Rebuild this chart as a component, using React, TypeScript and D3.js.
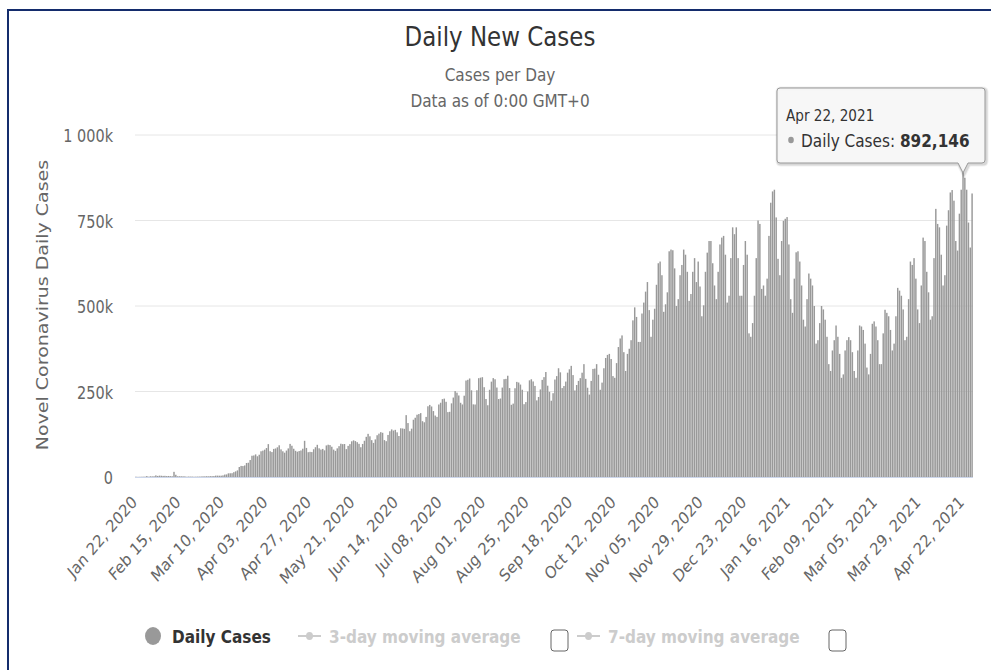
import * as d3 from "d3";

const START_DATE = new Date(2020, 0, 22);

// daily new cases in thousands, one row per week (Wed -> Tue)
const dailyCasesK: number[] = [
  0.6, 0.1, 0.3, 0.5, 0.7, 0.8, 2.7,
  0.6, 2.1, 1.7, 2.1, 4.7, 3.1, 4.0,
  3.7, 3.2, 3.4, 2.6, 3.0, 2.5, 2.1,
  15.1, 6.5, 2.1, 2.2, 2.0, 1.9, 1.7,
  0.5, 1.2, 1.0, 1.1, 0.6, 0.8, 1.0,
  1.1, 1.4, 1.8, 1.8, 2.3, 1.9, 2.5,
  2.4, 2.7, 4.0, 4.0, 3.8, 3.9, 4.7,
  7.1, 7.6, 10.7, 10.9, 11.1, 14.1, 16.5,
  19.3, 29.2, 32.4, 32.0, 33.8, 41.0, 41.7,
  49.6, 62.2, 63.0, 66.1, 60.6, 65.2, 75.2,
  77.1, 80.0, 84.7, 96.1, 75.4, 72.9, 82.1,
  83.4, 86.8, 92.7, 80.8, 75.2, 71.1, 77.3,
  83.6, 96.8, 91.4, 82.6, 76.6, 74.0, 75.9,
  77.6, 82.7, 105.8, 85.0, 72.5, 73.5, 72.9,
  81.1, 87.1, 94.1, 83.9, 80.2, 82.1, 77.9,
  92.3, 94.4, 93.3, 88.5, 80.1, 76.4, 83.8,
  90.2, 97.3, 96.0, 96.4, 81.5, 91.0, 96.1,
  104.4, 107.1, 105.0, 101.8, 97.0, 87.0, 96.6,
  106.0, 117.5, 126.2, 119.0, 107.7, 99.7, 109.9,
  122.1, 126.8, 131.1, 129.3, 107.9, 104.7, 123.0,
  133.8, 139.2, 135.8, 137.9, 130.6, 119.9, 142.4,
  141.9, 140.8, 180.9, 157.7, 133.9, 141.3, 167.4,
  173.3, 182.1, 184.1, 186.8, 163.2, 160.0, 175.7,
  206.8, 210.8, 206.2, 192.8, 179.7, 175.8, 212.0,
  217.1, 227.7, 229.2, 219.9, 189.7, 190.6, 215.3,
  232.3, 251.1, 246.6, 238.4, 217.0, 212.1, 237.7,
  282.1, 284.2, 288.1, 253.5, 212.4, 212.0, 253.7,
  288.9, 290.5, 291.9, 262.6, 228.1, 209.8, 255.0,
  278.8, 289.2, 285.8, 261.6, 228.0, 229.5, 261.5,
  286.0, 286.9, 296.1, 260.0, 211.1, 214.6, 259.5,
  278.1, 276.3, 270.3, 255.1, 212.9, 219.1, 250.0,
  282.6, 285.8, 279.4, 266.3, 224.0, 234.0, 256.0,
  284.0, 292.0, 307.0, 267.0, 249.0, 223.0, 245.0,
  285.0, 295.0, 318.0, 306.0, 260.0, 266.0, 279.0,
  305.0, 315.0, 325.0, 298.0, 253.0, 269.0, 281.0,
  289.0, 305.0, 330.0, 287.0, 261.0, 241.0, 281.0,
  316.0, 317.0, 330.0, 299.0, 255.0, 276.0, 318.0,
  348.0, 357.0, 360.0, 345.0, 295.0, 290.0, 333.0,
  380.0, 405.0, 414.0, 365.0, 310.0, 360.0, 375.0,
  400.0, 458.0, 496.0, 468.0, 395.0, 395.0, 478.0,
  510.0, 542.0, 570.0, 488.0, 410.0, 460.0, 492.0,
  562.0, 625.0, 630.0, 590.0, 483.0, 505.0, 540.0,
  660.0, 665.0, 663.0, 610.0, 500.0, 520.0, 590.0,
  620.0, 665.0, 650.0, 600.0, 515.0, 535.0, 600.0,
  640.0, 570.0, 630.0, 557.0, 470.0, 502.0, 600.0,
  656.0, 690.0, 690.0, 625.0, 560.0, 520.0, 600.0,
  680.0, 700.0, 705.0, 650.0, 510.0, 530.0, 640.0,
  730.0, 710.0, 730.0, 640.0, 530.0, 530.0, 620.0,
  690.0, 650.0, 420.0, 410.0, 450.0, 530.0, 640.0,
  750.0, 740.0, 550.0, 560.0, 530.0, 580.0, 705.0,
  802.0, 835.0, 840.0, 759.0, 638.0, 590.0, 690.0,
  749.0, 755.0, 760.0, 680.0, 520.0, 480.0, 580.0,
  657.0, 660.0, 630.0, 560.0, 460.0, 440.0, 520.0,
  595.0, 580.0, 560.0, 500.0, 390.0, 400.0, 450.0,
  500.0, 490.0, 460.0, 410.0, 330.0, 310.0, 370.0,
  400.0, 443.0, 410.0, 360.0, 290.0, 300.0, 370.0,
  400.0, 409.0, 400.0, 365.0, 310.0, 290.0, 370.0,
  443.0, 440.0, 430.0, 390.0, 320.0, 300.0, 360.0,
  448.0, 455.0, 440.0, 400.0, 330.0, 330.0, 420.0,
  489.0, 480.0, 470.0, 430.0, 370.0, 390.0, 470.0,
  553.0, 545.0, 530.0, 490.0, 400.0, 410.0, 520.0,
  630.0, 620.0, 640.0, 580.0, 490.0, 450.0, 560.0,
  700.0, 690.0, 600.0, 540.0, 460.0, 470.0, 640.0,
  784.0, 740.0, 730.0, 650.0, 560.0, 590.0, 735.0,
  780.0, 832.0, 839.0, 808.0, 690.0, 662.0, 770.0,
  840.0, 892.146, 875.0, 840.0, 744.0, 671.0, 829.0,
];

const yTickValues = [0, 250, 500, 750, 1000];

const xTickLabels = [
  "Jan 22, 2020", "Feb 15, 2020", "Mar 10, 2020", "Apr 03, 2020", "Apr 27, 2020",
  "May 21, 2020", "Jun 14, 2020", "Jul 08, 2020", "Aug 01, 2020", "Aug 25, 2020",
  "Sep 18, 2020", "Oct 12, 2020", "Nov 05, 2020", "Nov 29, 2020", "Dec 23, 2020",
  "Jan 16, 2021", "Feb 09, 2021", "Mar 05, 2021", "Mar 29, 2021", "Apr 22, 2021",
];

const seriesName = "Daily Cases";
const hiddenSeries = ["3-day moving average", "7-day moving average"];
const hoveredDate = "Apr 22, 2021";

const W = 991;
const H = 670;
const plot = { left: 135, right: 973, top: 135, bottom: 477 };
const FONT = '"Lucida Grande", "DejaVu Sans", sans-serif';
const SQ = 0.85; // the picture is a little narrower than tall

const sq = (x: number, y: number, rot = 0) =>
  `translate(${x},${y}) scale(${SQ},1)` + (rot ? ` rotate(${rot})` : "");

const fmtDay = d3.timeFormat("%b %d, %Y");
const categories = d3
  .timeDay.range(START_DATE, d3.timeDay.offset(START_DATE, dailyCasesK.length))
  .map((d) => fmtDay(d));

const fmtY = (v: number) => (v === 0 ? "0" : d3.format(",")(v).replace(",", " ") + "k");

export default function App() {
  const x = d3
    .scaleBand<number>()
    .domain(d3.range(dailyCasesK.length))
    .range([plot.left, plot.right])
    .paddingInner(0.2)
    .paddingOuter(0.1);
  const y = d3.scaleLinear().domain([0, 1000]).range([plot.bottom, plot.top]);
  const bw = x.bandwidth();
  const center = (i: number) => (x(i) ?? 0) + bw / 2;

  const hi = categories.indexOf(hoveredDate);
  const ax = center(hi);
  const ay = y(dailyCasesK[hi]);

  // tooltip box (callout pointing down at the hovered bar)
  const b = { x0: 777, y0: 88, x1: 985, y1: 163, r: 3 };
  const tipPath =
    `M${b.x0 + b.r},${b.y0} L${b.x1 - b.r},${b.y0} Q${b.x1},${b.y0} ${b.x1},${b.y0 + b.r} ` +
    `L${b.x1},${b.y1 - b.r} Q${b.x1},${b.y1} ${b.x1 - b.r},${b.y1} ` +
    `L${ax + 5},${b.y1} L${ax},${ay + 1} L${ax - 5},${b.y1} ` +
    `L${b.x0 + b.r},${b.y1} Q${b.x0},${b.y1} ${b.x0},${b.y1 - b.r} ` +
    `L${b.x0},${b.y0 + b.r} Q${b.x0},${b.y0} ${b.x0 + b.r},${b.y0} Z`;

  const legendY = 636;

  return (
    <div style={{ position: "absolute", left: 0, top: 0 }}>
      <svg width={W} height={H} style={{ display: "block", background: "#fff" }} fontFamily={FONT}>
        {/* frame */}
        <rect x={8} y={10} width={W + 50} height={H + 50} fill="none" stroke="#142c6c" strokeWidth={2} />

        {/* titles */}
        <text transform={sq(500, 46)} textAnchor="middle" fontSize={27} fill="#333">
          Daily New Cases
        </text>
        <text transform={sq(500, 81)} textAnchor="middle" fontSize={18} fill="#666">
          Cases per Day
        </text>
        <text transform={sq(500, 107)} textAnchor="middle" fontSize={18} fill="#666">
          Data as of 0:00 GMT+0
        </text>

        {/* grid + y labels */}
        {yTickValues.map((v) => (
          <g key={v}>
            <line x1={plot.left} x2={plot.right} y1={y(v)} y2={y(v)} stroke="#e6e6e6" strokeWidth={1} />
            <text transform={sq(113, y(v) + 7)} textAnchor="end" fontSize={17} fill="#666">
              {fmtY(v)}
            </text>
          </g>
        ))}
        <text
          transform={`translate(48,305) scale(${SQ},1) rotate(-90)`}
          textAnchor="middle"
          fontSize={19}
          fill="#666"
        >
          Novel Coronavirus Daily Cases
        </text>

        {/* bars */}
        {dailyCasesK.map((v, i) => (
          <rect key={i} x={x(i)} y={y(v)} width={bw} height={plot.bottom - y(v)} fill="#999" />
        ))}

        {/* x axis */}
        <line x1={plot.left} x2={plot.right} y1={plot.bottom + 0.5} y2={plot.bottom + 0.5} stroke="#ccd6eb" strokeWidth={1} />
        {xTickLabels.map((lab) => {
          const i = categories.indexOf(lab);
          return (
            <text key={lab} transform={sq(center(i) + 2, 503, -45)} textAnchor="end" fontSize={17} fill="#666">
              {lab}
            </text>
          );
        })}

        {/* legend */}
        <ellipse cx={153} cy={legendY} rx={8} ry={9} fill="#999" />
        <text transform={sq(172, legendY + 7)} fontSize={18} fontWeight="bold" fill="#333">
          {seriesName}
        </text>
        {hiddenSeries.map((name, k) => {
          const lx = k === 0 ? 298 : 577;
          const bx = k === 0 ? 551 : 829;
          return (
            <g key={name}>
              <line x1={lx} x2={lx + 23} y1={legendY} y2={legendY} stroke="#ccc" strokeWidth={2} />
              <ellipse cx={lx + 11.5} cy={legendY} rx={3.5} ry={4} fill="#ccc" />
              <text transform={sq(lx + 31, legendY + 7)} fontSize={18} fontWeight="bold" fill="#ccc">
                {name}
              </text>
              <rect x={bx} y={630} width={17} height={21} rx={3} fill="#fff" stroke="#666" strokeWidth={1} />
            </g>
          );
        })}

        {/* tooltip */}
        <g>
          <path d={tipPath} transform="translate(1,1)" fill="none" stroke="rgba(0,0,0,0.06)" strokeWidth={5} />
          <path d={tipPath} transform="translate(1,1)" fill="none" stroke="rgba(0,0,0,0.1)" strokeWidth={3} />
          <path d={tipPath} fill="rgba(247,247,247,0.95)" stroke="#999" strokeWidth={1} />
          <text transform={sq(786, 121)} fontSize={16} fill="#333">
            {categories[hi]}
          </text>
          <ellipse cx={791} cy={140} rx={2.8} ry={3.3} fill="#999" />
          <text transform={sq(801, 147)} fontSize={18} fill="#333">
            {seriesName}:{" "}
            <tspan fontWeight="bold">{d3.format(",")(Math.round(dailyCasesK[hi] * 1000))}</tspan>
          </text>
        </g>
      </svg>
    </div>
  );
}
